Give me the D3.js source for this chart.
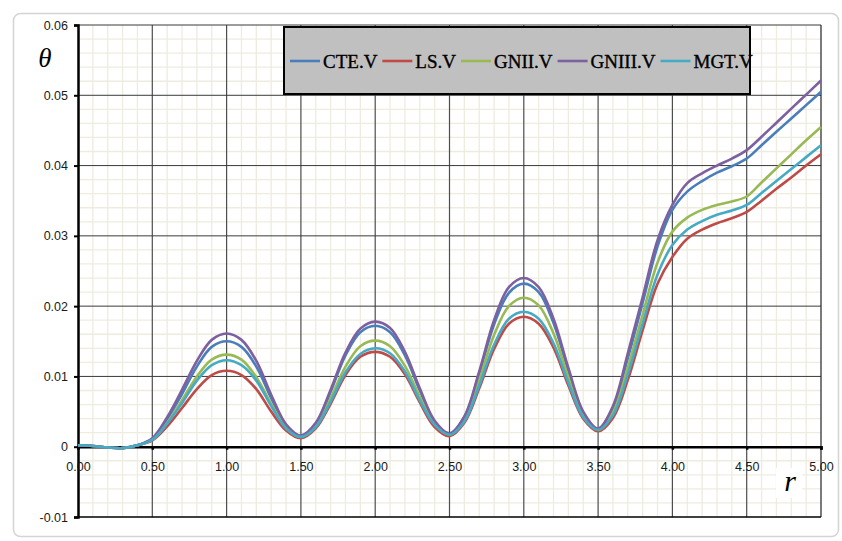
<!DOCTYPE html>
<html>
<head>
<meta charset="utf-8">
<script src="https://cdn.jsdelivr.net/npm/d3@7"></script>
<style>
  html, body { margin: 0; padding: 0; background: #ffffff; }
</style>
</head>
<body>
<div id="chart"></div>
<script>
// datos
const rValues = [0.0, 0.1, 0.2, 0.3, 0.4, 0.5, 0.6, 0.7, 0.8, 0.9,
  1.0, 1.1, 1.2, 1.3, 1.4, 1.5, 1.6, 1.7, 1.8, 1.9,
  2.0, 2.1, 2.2, 2.3, 2.4, 2.5, 2.6, 2.7, 2.8, 2.9,
  3.0, 3.1, 3.2, 3.3, 3.4, 3.5, 3.6, 3.7, 3.8, 3.9,
  4.0, 4.1, 4.2, 4.3, 4.4, 4.5, 4.6, 4.7, 4.8, 4.9, 5.0];

const cteV = [0.0002, 0.0001, -0.0001, -0.0002, 0.0002, 0.0011, 0.0039, 0.0075, 0.0114, 0.0142,
  0.0150, 0.0142, 0.0114, 0.0069, 0.0030, 0.0015, 0.0032, 0.0078, 0.0130, 0.0163,
  0.0172, 0.0163, 0.0130, 0.0080, 0.0035, 0.0018, 0.0042, 0.0104, 0.0174, 0.0219,
  0.0232, 0.0220, 0.0176, 0.0108, 0.0048, 0.0025, 0.0055, 0.0126, 0.0205, 0.0285,
  0.0337, 0.0363, 0.0378, 0.0390, 0.0399, 0.0410, 0.0429, 0.0448, 0.0467, 0.0486, 0.0505];

const lsV = [0.0002, 0.0001, -0.0001, -0.0002, 0.0002, 0.0009, 0.0029, 0.0055, 0.0082, 0.0102,
  0.0108, 0.0102, 0.0082, 0.0050, 0.0023, 0.0012, 0.0026, 0.0061, 0.0102, 0.0128,
  0.0135, 0.0128, 0.0103, 0.0063, 0.0028, 0.0015, 0.0034, 0.0083, 0.0139, 0.0175,
  0.0185, 0.0175, 0.0141, 0.0087, 0.0040, 0.0022, 0.0041, 0.0095, 0.0166, 0.0232,
  0.0270, 0.0296, 0.0309, 0.0318, 0.0325, 0.0334, 0.0350, 0.0367, 0.0383, 0.0400, 0.0416];

const gniiV = [0.0002, 0.0001, -0.0001, -0.0002, 0.0002, 0.0010, 0.0034, 0.0066, 0.0100, 0.0124,
  0.0131, 0.0124, 0.0099, 0.0061, 0.0027, 0.0014, 0.0029, 0.0069, 0.0114, 0.0143,
  0.0151, 0.0143, 0.0115, 0.0071, 0.0032, 0.0017, 0.0039, 0.0095, 0.0159, 0.0200,
  0.0212, 0.0201, 0.0161, 0.0099, 0.0045, 0.0024, 0.0049, 0.0113, 0.0188, 0.0262,
  0.0306, 0.0326, 0.0337, 0.0344, 0.0349, 0.0356, 0.0376, 0.0396, 0.0416, 0.0436, 0.0455];

const gniiiV = [0.0002, 0.0001, -0.0001, -0.0002, 0.0002, 0.0012, 0.0042, 0.0081, 0.0122, 0.0152,
  0.0161, 0.0152, 0.0122, 0.0074, 0.0032, 0.0016, 0.0034, 0.0081, 0.0134, 0.0168,
  0.0178, 0.0169, 0.0135, 0.0083, 0.0037, 0.0019, 0.0043, 0.0107, 0.0180, 0.0227,
  0.0240, 0.0227, 0.0182, 0.0112, 0.0050, 0.0026, 0.0058, 0.0133, 0.0213, 0.0294,
  0.0344, 0.0375, 0.0389, 0.0400, 0.0410, 0.0422, 0.0441, 0.0461, 0.0481, 0.0501, 0.0521];

const mgtV = [0.0002, 0.0001, -0.0001, -0.0002, 0.0002, 0.0010, 0.0033, 0.0062, 0.0094, 0.0116,
  0.0123, 0.0116, 0.0094, 0.0058, 0.0026, 0.0014, 0.0028, 0.0064, 0.0106, 0.0132,
  0.0140, 0.0133, 0.0107, 0.0066, 0.0031, 0.0017, 0.0036, 0.0087, 0.0145, 0.0182,
  0.0192, 0.0182, 0.0147, 0.0091, 0.0042, 0.0024, 0.0045, 0.0103, 0.0175, 0.0245,
  0.0287, 0.0309, 0.0321, 0.0330, 0.0336, 0.0344, 0.0361, 0.0378, 0.0395, 0.0412, 0.0429];

const seriesNames = ["CTE.V", "LS.V", "GNII.V", "GNIII.V", "MGT.V"];
const seriesColors = ["#4a7ebb", "#be4b48", "#98b954", "#7d60a0", "#46aac5"];

const xTicks = [0, 0.5, 1, 1.5, 2, 2.5, 3, 3.5, 4, 4.5, 5];
const xTickLabels = ["0.00", "0.50", "1.00", "1.50", "2.00", "2.50", "3.00", "3.50", "4.00", "4.50", "5.00"];
const yTicks = [-0.01, 0, 0.01, 0.02, 0.03, 0.04, 0.05, 0.06];
const yTickLabels = ["-0.01", "0", "0.01", "0.02", "0.03", "0.04", "0.05", "0.06"];

// medidas
const width = 842;
const height = 541;
const plot = { left: 78, right: 821, top: 25, bottom: 517 };

const svg = d3.select("#chart")
  .append("svg")
  .attr("width", width)
  .attr("height", height)
  .style("display", "block");

// marco exterior del grafico
svg.append("rect")
  .attr("x", 13.5).attr("y", 13.5)
  .attr("width", 825).attr("height", 523)
  .attr("rx", 7)
  .attr("fill", "#ffffff")
  .attr("stroke", "#d4d4d4")
  .attr("stroke-width", 1.5);

const x = d3.scaleLinear().domain([0, 5]).range([plot.left, plot.right]);
const y = d3.scaleLinear().domain([-0.01, 0.06]).range([plot.bottom, plot.top]);

// rejilla menor
const minorX = d3.range(0, 51).map((i) => i / 10).filter((v, i) => i % 5 !== 0);
const minorY = d3.range(0, 36).map((i) => -0.01 + i * 0.002).filter((v, i) => i % 5 !== 0);

const grid = svg.append("g").attr("class", "grid");
grid.selectAll(".minor-x")
  .data(minorX)
  .join("line")
  .attr("class", "minor-x")
  .attr("x1", (d) => x(d)).attr("x2", (d) => x(d))
  .attr("y1", plot.top).attr("y2", plot.bottom)
  .attr("stroke", "#eeebdf")
  .attr("stroke-width", 1.3);
grid.selectAll(".minor-y")
  .data(minorY)
  .join("line")
  .attr("class", "minor-y")
  .attr("x1", plot.left).attr("x2", plot.right)
  .attr("y1", (d) => y(d)).attr("y2", (d) => y(d))
  .attr("stroke", "#eeebdf")
  .attr("stroke-width", 1.3);

// rejilla mayor
grid.selectAll(".major-x")
  .data(xTicks.slice(1, -1))
  .join("line")
  .attr("class", "major-x")
  .attr("x1", (d) => x(d)).attr("x2", (d) => x(d))
  .attr("y1", plot.top).attr("y2", plot.bottom)
  .attr("stroke", "#4d4d4d")
  .attr("stroke-width", 1.2);
grid.selectAll(".major-y")
  .data(yTicks.filter((d) => d > 0))
  .join("line")
  .attr("class", "major-y")
  .attr("x1", plot.left).attr("x2", plot.right)
  .attr("y1", (d) => y(d)).attr("y2", (d) => y(d))
  .attr("stroke", "#3a3a3a")
  .attr("stroke-width", 1);

// bordes del area de trazado
const borders = svg.append("g");
borders.append("line")
  .attr("x1", x(5)).attr("x2", x(5)).attr("y1", plot.top).attr("y2", plot.bottom)
  .attr("stroke", "#222").attr("stroke-width", 1.2);
borders.append("line")
  .attr("x1", plot.left).attr("x2", plot.right).attr("y1", y(-0.01)).attr("y2", y(-0.01))
  .attr("stroke", "#000").attr("stroke-width", 1.6);

// eje y
const yAxis = svg.append("g")
  .attr("transform", `translate(${plot.left},0)`)
  .call(d3.axisLeft(y).tickValues(yTicks).tickFormat((d, i) => yTickLabels[i]).tickSize(4).tickPadding(6));
yAxis.select(".domain").attr("stroke", "#000").attr("stroke-width", 2.5);
yAxis.selectAll(".tick line").attr("stroke", "#000").attr("stroke-width", 2);
yAxis.selectAll(".tick text")
  .style("font-family", "'Liberation Sans', Arial, sans-serif")
  .style("font-size", "12.5px")
  .attr("fill", "#1a1a1a");

// eje x en cero
const xAxis = svg.append("g")
  .attr("transform", `translate(0,${y(0)})`)
  .call(d3.axisBottom(x).tickValues(xTicks).tickFormat((d, i) => xTickLabels[i]).tickSize(3).tickPadding(12));
xAxis.select(".domain").attr("stroke", "#000").attr("stroke-width", 2.5);
xAxis.selectAll(".tick line").attr("stroke", "#000").attr("stroke-width", 2.5);
xAxis.selectAll(".tick text")
  .style("font-family", "'Liberation Sans', Arial, sans-serif")
  .style("font-size", "12.5px")
  .attr("fill", "#1a1a1a");

// series
const seriesData = [cteV, lsV, gniiV, gniiiV, mgtV];
const line = d3.line()
  .x((d, i) => x(rValues[i]))
  .y((d) => y(d))
  .curve(d3.curveCatmullRom.alpha(0.5));

svg.append("g")
  .selectAll("path")
  .data(seriesData)
  .join("path")
  .attr("d", (d) => line(d))
  .attr("fill", "none")
  .attr("stroke", (d, i) => seriesColors[i])
  .attr("stroke-width", 2.6)
  .attr("stroke-linejoin", "round");

// titulos de los ejes
svg.append("text")
  .attr("x", 45).attr("y", 67)
  .attr("text-anchor", "middle")
  .style("font-family", "'Liberation Serif', 'DejaVu Serif', serif")
  .style("font-style", "italic")
  .style("font-size", "27px")
  .attr("fill", "#000")
  .text("θ");

svg.append("rect")
  .attr("x", 776).attr("y", 468).attr("width", 26).attr("height", 30)
  .attr("fill", "#fff");
svg.append("text")
  .attr("x", 790).attr("y", 491)
  .attr("text-anchor", "middle")
  .style("font-family", "'Liberation Serif', 'DejaVu Serif', serif")
  .style("font-style", "italic")
  .style("font-size", "30px")
  .attr("fill", "#000")
  .text("r");

// leyenda
const legend = svg.append("g").attr("id", "legend");
legend.append("rect")
  .attr("x", 284).attr("y", 27)
  .attr("width", 466).attr("height", 67)
  .attr("fill", "#c0c0c0")
  .attr("stroke", "#000")
  .attr("stroke-width", 2);

let cursor = 290;
seriesNames.forEach((name, i) => {
  legend.append("line")
    .attr("x1", cursor).attr("x2", cursor + 30)
    .attr("y1", 61).attr("y2", 61)
    .attr("stroke", seriesColors[i])
    .attr("stroke-width", 2.6);
  const t = legend.append("text")
    .attr("x", cursor + 33).attr("y", 68)
    .style("font-family", "'Liberation Serif', 'Times New Roman', serif")
    .style("font-size", "19px")
    .attr("fill", "#000")
    .attr("stroke", "#000")
    .attr("stroke-width", 0.35)
    .text(name);
  cursor += 33 + t.node().getComputedTextLength() + 5;
});
</script>
</body>
</html>
